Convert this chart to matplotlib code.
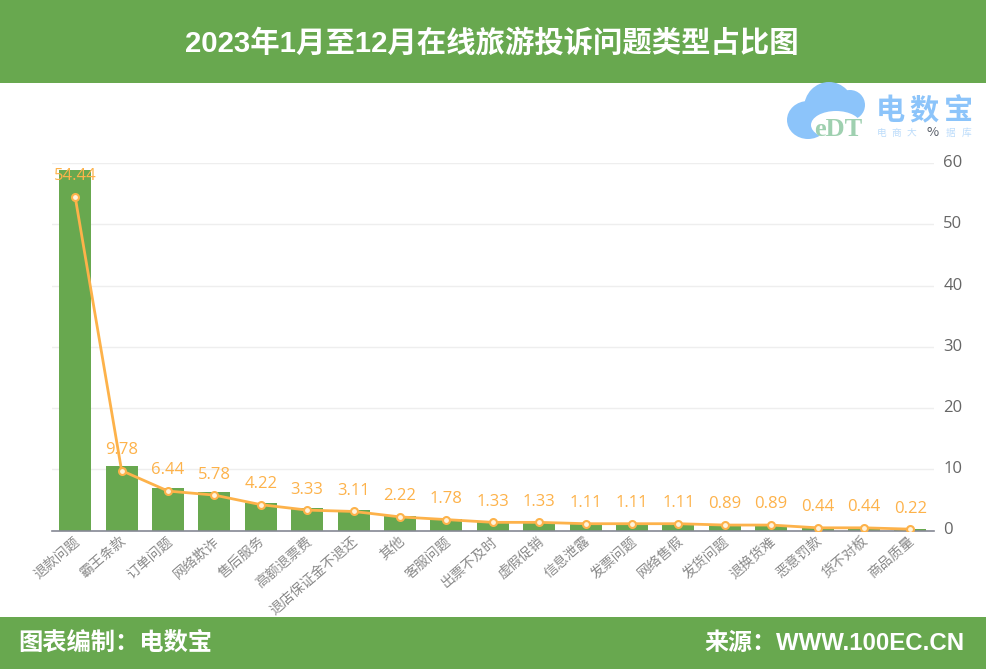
import matplotlib
matplotlib.use('Agg')
import matplotlib.pyplot as plt
from matplotlib.patches import Rectangle, Ellipse
from matplotlib.transforms import ScaledTranslation

plt.rcParams['font.family'] = ['Noto Sans CJK SC', 'DejaVu Sans']
BOLD = ['Liberation Sans', 'Noto Sans CJK SC']

TITLE = '2023年1月至12月在线旅游投诉问题类型占比图'
FOOT_L = '图表编制：电数宝'
FOOT_R = '来源：WWW.100EC.CN'
categories = ['退款问题', '霸王条款', '订单问题', '网络欺诈', '售后服务', '高额退票费', '退店保证金不退还',
              '其他', '客服问题', '出票不及时', '虚假促销', '信息泄露', '发票问题', '网络售假', '发货问题',
              '退换货难', '恶意罚款', '货不对板', '商品质量']
bar_values = [58.9, 10.6, 6.97, 6.25, 4.56, 3.6, 3.37, 2.4, 1.92, 1.44, 1.44, 1.2, 1.2, 1.2, 0.96, 0.96, 0.48, 0.48, 0.24]
line_values = [54.44, 9.78, 6.44, 5.78, 4.22, 3.33, 3.11, 2.22, 1.78, 1.33, 1.33, 1.11, 1.11, 1.11, 0.89, 0.89, 0.44, 0.44, 0.22]
yticks = [0, 10, 20, 30, 40, 50, 60]

GREEN = '#68a84f'
ORANGE = '#fdb24a'
W, H = 986, 669
fig = plt.figure(figsize=(W / 100, H / 100), dpi=100, facecolor='white')

def fx(x): return x / W
def fy(y): return 1 - y / H

# Header and footer bands
fig.add_artist(Rectangle((0, fy(82.5)), 1, 82.5 / H, transform=fig.transFigure, color=GREEN, lw=0))
fig.add_artist(Rectangle((0, 0), 1, (H - 617) / H, transform=fig.transFigure, color=GREEN, lw=0))
fig.text(fx(492), fy(43), TITLE, color='white', fontsize=21.2, fontweight='bold', ha='center', va='center', family=BOLD)
fig.text(fx(18), fy(643), FOOT_L, color='white', fontsize=17.5, fontweight='bold', ha='left', va='center', family=BOLD)
fig.text(fx(965), fy(643), FOOT_R, color='white', fontsize=17.3, fontweight='bold', ha='right', va='center', family=BOLD)

# Chart
ax = fig.add_axes([fx(52), fy(530.5), (933.5 - 52) / W, (530.5 - 163) / H])
x = list(range(len(categories)))
ax.bar(x, bar_values, width=0.69, color=GREEN, zorder=2)
ax.plot(x, line_values, color=ORANGE, lw=2, marker='o', ms=5, mfc='#fff3dc', mec=ORANGE, mew=1.5, zorder=3)
for i, v in zip(x, line_values):
    ax.annotate(f'{v:.2f}', (i, v), xytext=(0, 14.8), textcoords='offset points', ha='center', va='center',
                color=ORANGE, fontsize=12, zorder=4, family=['Open Sans', 'DejaVu Sans'])
ax.set_xlim(-0.5, len(categories) - 0.5)
ax.set_ylim(0, 60)
ax.set_yticks(yticks)
ax.yaxis.tick_right()
ax.grid(axis='y', color='#eeeeee', lw=1, zorder=0)
ax.set_axisbelow(True)
for s in ('top', 'left', 'right'):
    ax.spines[s].set_visible(False)
ax.spines['bottom'].set_color('#858894')
ax.spines['bottom'].set_linewidth(1.2)
ax.tick_params(axis='y', length=0, pad=7, labelsize=12, labelcolor='#666666')
up = ScaledTranslation(0, 2 / 100, fig.dpi_scale_trans)
for t in ax.get_yticklabels():
    t.set_family(['Open Sans', 'DejaVu Sans'])
    t.set_transform(t.get_transform() + up)
ax.tick_params(axis='x', length=0, pad=2.5)
ax.set_xticks(x)
ax.set_xticklabels(categories, rotation=41, ha='right', va='top', rotation_mode='anchor',
                   fontsize=10, color='#8a8a8a')
left = ScaledTranslation(-2 / 100, 0, fig.dpi_scale_trans)
for t in ax.get_xticklabels():
    t.set_transform(t.get_transform() + left)

# Logo
BLUE = '#8cc4fa'
for cx, cy, w, h in [(829, 108, 50, 52), (808, 120, 42, 38), (850, 105, 30, 30)]:
    fig.add_artist(Ellipse((fx(cx), fy(cy)), w / W, h / H, transform=fig.transFigure, color=BLUE, lw=0))
fig.add_artist(Ellipse((fx(836), fy(125)), 50 / W, 28 / H, transform=fig.transFigure, color='white', lw=0))
fig.text(fx(838), fy(129), 'eDT', color='#9fd0b0', fontsize=19, fontweight='bold', family='Liberation Serif',
         ha='center', va='center')
for cx, ch in zip([890, 924, 958], '电数宝'):
    fig.text(fx(cx), fy(110), ch, color=BLUE, fontsize=21, fontweight='bold', ha='center', va='center')
for cx, ch in zip([882, 896, 911, 951, 967], '电商大据库'):
    fig.text(fx(cx), fy(133), ch, color='#bcdcfb', fontsize=7, ha='center', va='center')
fig.text(fx(933), fy(133), '%', color='#555b66', fontsize=9.5, ha='center', va='center')

fig.savefig('out.png', dpi=100)
